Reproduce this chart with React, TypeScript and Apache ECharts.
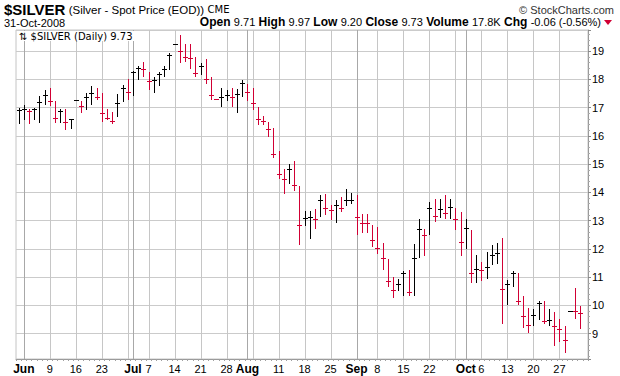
import React, { useEffect, useRef } from "react";
import * as echarts from "echarts";

// ---- data ----
const startDate = "2008-05-30";
const endDate = "2008-10-31";
const holidays = ["2008-07-04", "2008-09-01"];

const highs = [
  17.0, 17.09, 16.97, 17.0, 17.42, 17.62, 17.68, 17.24, 16.97, 16.94,
  16.61, 17.26, 17.24, 17.53, 17.75, 17.68, 17.53, 16.97, 16.85, 17.47,
  17.8, 18.01, 18.3, 18.48, 18.6, 18.25, 18.07, 18.25, 18.46, 18.95,
  19.27, 19.57, 19.25, 19.25, 18.78, 18.57, 18.72, 18.07, 17.32, 17.71,
  17.62, 17.68, 17.66, 17.97, 17.83, 17.68, 17.04, 16.71, 16.49, 16.28,
  15.47, 14.84, 15.0, 15.11, 14.22, 13.34, 13.34, 13.4, 13.89, 13.93,
  13.57, 13.72, 13.85, 14.13, 13.99, 13.89, 13.22, 13.25, 12.83, 12.78,
  12.22, 11.65, 11.01, 10.94, 11.21, 11.25, 12.16, 13.07, 12.71, 13.67,
  13.75, 13.75, 13.89, 13.75, 13.46, 13.3, 13.07, 12.67, 11.77, 11.53,
  11.88, 12.12, 12.19, 12.37, 10.91, 11.21, 11.13, 10.34, 9.91, 9.88,
  10.15, 10.15, 9.88, 9.76, 9.52, 9.26, 9.81, 10.63, 9.97,
];
const lows = [
  16.45, 16.59, 16.45, 16.59, 16.49, 17.12, 17.09, 16.49, 16.49, 16.26,
  16.28, 17.26, 16.85, 16.97, 17.12, 17.3, 16.53, 16.59, 16.45, 16.69,
  17.24, 17.3, 17.44, 18.01, 18.13, 17.66, 17.56, 17.8, 18.13, 18.36,
  19.27, 18.62, 18.65, 18.39, 18.13, 18.19, 17.88, 17.3, 17.32, 17.06,
  17.27, 17.06, 16.85, 17.42, 17.27, 16.94, 16.41, 16.41, 15.99, 15.24,
  14.52, 13.99, 14.34, 14.08, 12.16, 12.83, 12.38, 12.75, 13.16, 13.25,
  13.06, 12.95, 13.34, 13.55, 13.61, 12.51, 12.59, 12.59, 12.1, 11.86,
  11.29, 10.68, 10.3, 10.56, 10.38, 10.38, 10.38, 11.72, 11.8, 12.51,
  13.0, 13.13, 13.09, 13.1, 12.71, 11.77, 12.04, 10.82, 10.82, 10.89,
  10.96, 11.45, 11.51, 9.38, 10.03, 10.68, 10.03, 9.24, 9.05, 9.29,
  9.5, 9.36, 9.32, 8.61, 8.73, 8.34, 9.81, 9.56, 9.2,
];
const closes = [
  16.91, 16.94, 16.88, 16.94, 17.2, 17.44, 17.24, 16.65, 16.88, 16.49,
  16.59, 17.26, 17.06, 17.36, 17.53, 17.39, 16.8, 16.65, 16.53, 17.16,
  17.71, 17.56, 18.28, 18.39, 18.36, 17.95, 17.97, 18.19, 18.36, 18.86,
  19.27, 19.01, 18.8, 18.76, 18.22, 18.46, 18.03, 17.46, 17.32, 17.39,
  17.45, 17.39, 17.47, 17.86, 17.56, 17.16, 16.59, 16.52, 16.26, 15.35,
  14.64, 14.48, 14.84, 14.25, 12.83, 13.08, 13.12, 13.04, 13.72, 13.46,
  13.36, 13.55, 13.46, 13.72, 13.74, 13.14, 12.93, 12.9, 12.33, 12.04,
  11.68, 10.86, 10.56, 10.77, 11.13, 10.48, 11.66, 12.69, 12.48, 13.46,
  13.18, 13.42, 13.27, 13.49, 13.04, 12.26, 12.75, 11.13, 11.29, 11.25,
  11.36, 11.77, 11.86, 10.58, 10.76, 11.13, 10.15, 9.62, 9.3, 9.67,
  10.09, 9.46, 9.47, 9.26, 9.16, 8.79, 9.81, 9.79, 9.73,
];

const tickLabelDates = [
  "2008-06-02", "2008-06-09", "2008-06-16", "2008-06-23", "2008-07-01",
  "2008-07-07", "2008-07-14", "2008-07-21", "2008-07-28", "2008-08-01",
  "2008-08-11", "2008-08-18", "2008-08-25", "2008-09-02", "2008-09-08",
  "2008-09-15", "2008-09-22", "2008-10-01", "2008-10-06", "2008-10-13",
  "2008-10-20", "2008-10-27",
];
const tickLabelTexts = [
  "Jun", "9", "16", "23", "Jul", "7", "14", "21", "28", "Aug", "11", "18",
  "25", "Sep", "8", "15", "22", "Oct", "6", "13", "20", "27",
];
const weekLineDates = [
  "2008-06-09", "2008-06-16", "2008-06-23", "2008-06-30", "2008-07-07",
  "2008-07-14", "2008-07-21", "2008-07-28", "2008-08-04", "2008-08-11",
  "2008-08-18", "2008-08-25", "2008-09-08", "2008-09-15", "2008-09-22",
  "2008-09-29", "2008-10-06", "2008-10-13", "2008-10-20", "2008-10-27",
];
const monthLineDates = ["2008-06-02", "2008-07-01", "2008-08-01", "2008-09-02", "2008-10-01"];

const yMin = 8.1;
const yMax = 19.75;

const headerSymbol = "$SILVER";
const headerName = "(Silver - Spot Price (EOD))";
const headerExchange = "CME";
const headerDate = "31-Oct-2008";
const statLabels = ["Open", "High", "Low", "Close", "Volume", "Chg"];
const statValues = ["9.71", "9.97", "9.20", "9.73", "17.8K", "-0.06 (-0.56%)"];
const legendText = "$SILVER (Daily) 9.73";

const RED = "#d10034";
const BLACK = "#000000";
const WEEK_LINE = "#c6c6c6";
const MONTH_LINE = "#a8a8a8";
const H_LINE = "#cbcbcb";

function tradingDays(start: string, end: string, hol: string[]) {
  const out: string[] = [];
  const d = new Date(start + "T00:00:00Z");
  const e = new Date(end + "T00:00:00Z");
  while (d <= e) {
    const wd = d.getUTCDay();
    const s = d.toISOString().slice(0, 10);
    if (wd !== 0 && wd !== 6 && hol.indexOf(s) < 0) out.push(s);
    d.setUTCDate(d.getUTCDate() + 1);
  }
  return out;
}

export default function App() {
  const ref = useRef<HTMLDivElement>(null);

  useEffect(() => {
    if (!ref.current) return;
    const chart = echarts.init(ref.current, null, { renderer: "svg" });

    const days = tradingDays(startDate, endDate, holidays);
    const categories = [...days, "pad"];
    const labelMap: Record<string, string> = {};
    tickLabelDates.forEach((d, i) => (labelMap[d] = tickLabelTexts[i]));

    const lineData = [
      ...weekLineDates.map((d) => [days.indexOf(d), 10, 0]),
      ...monthLineDates.map((d) => [days.indexOf(d), 10, 1]),
    ];

    const ohlcData = closes.map((c, i) => [
      i,
      highs[i],
      lows[i],
      c,
      i > 0 && c < closes[i - 1] ? 1 : 0,
    ]);

    const statsRich =
      statLabels.map((l, i) => `{l|${l}} {v|${statValues[i]}}`).join(" ");

    chart.setOption({
      animation: false,
      backgroundColor: "#ffffff",
      grid: {
        left: 16,
        right: 32,
        top: 30,
        bottom: 17,
        show: true,
        borderColor: "#c4c4c4",
        borderWidth: 1,
      },
      xAxis: {
        type: "category",
        data: categories,
        boundaryGap: true,
        axisLine: { show: true, lineStyle: { color: "#9a9a9a" } },
        axisTick: { show: true, interval: 0, length: 2, lineStyle: { color: "#a0a0a0" } },
        splitLine: { show: false },
        axisLabel: {
          interval: (index: number, value: string) => labelMap[value] !== undefined,
          formatter: (value: string) => {
            const t = labelMap[value];
            if (t === undefined) return "";
            return /^[A-Z]/.test(t) ? `{m|${t}}` : `{d|${t}}`;
          },
          margin: 4,
          rich: {
            m: { fontFamily: "Liberation Sans", fontSize: 12, fontWeight: "bold", color: "#000" },
            d: { fontFamily: "Liberation Sans", fontSize: 11, color: "#000" },
          },
        },
      },
      yAxis: {
        type: "value",
        position: "right",
        min: yMin,
        max: yMax,
        splitNumber: 11,
        axisLine: { show: true, lineStyle: { color: "#9a9a9a" } },
        axisTick: { show: true, length: 3, lineStyle: { color: "#888" } },
        minorTick: { show: true, splitNumber: 5, length: 2, lineStyle: { color: "#aaa" } },
        splitLine: { show: true, lineStyle: { color: H_LINE, width: 1 } },
        axisLabel: {
          showMinLabel: false,
          showMaxLabel: false,
          margin: 4,
          fontFamily: "Liberation Sans",
          fontSize: 11,
          color: "#000",
          formatter: (v: number) => String(Math.round(v)),
        },
      },
      series: [
        {
          type: "custom",
          name: "gridlines",
          silent: true,
          z: 1,
          data: lineData,
          encode: { x: 0, y: 1 },
          renderItem: (params: any, api: any) => {
            const cs = params.coordSys;
            const p = api.coord([api.value(0), api.value(1)]);
            const x = Math.round(p[0]) + 0.5;
            return {
              type: "line",
              shape: { x1: x, y1: cs.y, x2: x, y2: cs.y + cs.height },
              style: {
                stroke: api.value(2) === 1 ? MONTH_LINE : WEEK_LINE,
                lineWidth: 1,
              },
            };
          },
        },
        {
          type: "custom",
          name: "$SILVER",
          z: 3,
          data: ohlcData,
          encode: { x: 0, y: [1, 2, 3] },
          renderItem: (params: any, api: any) => {
            const i = api.value(0);
            const pH = api.coord([i, api.value(1)]);
            const pL = api.coord([i, api.value(2)]);
            const pC = api.coord([i, api.value(3)]);
            const color = api.value(4) === 1 ? RED : BLACK;
            const x = Math.round(pH[0]) + 0.5;
            const yc = Math.round(pC[1]) + 0.5;
            const children: any[] = [];
            if (pL[1] - pH[1] > 0.8) {
              children.push({
                type: "line",
                shape: { x1: x, y1: Math.round(pH[1]), x2: x, y2: Math.round(pL[1]) + 1 },
                style: { stroke: color, lineWidth: 1 },
              });
            }
            children.push({
              type: "line",
              shape: { x1: x - 2.5, y1: yc, x2: x + 2.5, y2: yc },
              style: { stroke: color, lineWidth: 1 },
            });
            return { type: "group", children };
          },
        },
      ],
      graphic: [
        {
          type: "text",
          x: 4,
          y: 2,
          style: {
            text: `{a|${headerSymbol}} {b|${headerName}} {c|${headerExchange}}`,
            rich: {
              a: { fontFamily: "Liberation Sans", fontSize: 15, fontWeight: "bold", fill: "#000" },
              b: { fontFamily: "Liberation Sans", fontSize: 11.5, fill: "#000" },
              c: { fontFamily: "DejaVu Sans", fontSize: 10, fill: "#000" },
            },
          },
        },
        {
          type: "text",
          x: 614,
          y: 4,
          style: {
            text: "© StockCharts.com",
            textAlign: "right",
            fontFamily: "Liberation Sans",
            fontSize: 11,
            fill: "#333",
          },
        },
        {
          type: "text",
          x: 4,
          y: 17,
          style: { text: headerDate, fontFamily: "Liberation Sans", fontSize: 11, fill: "#000" },
        },
        {
          type: "text",
          x: 601,
          y: 16,
          style: {
            text: statsRich,
            textAlign: "right",
            rich: {
              l: { fontFamily: "Liberation Sans", fontSize: 12, fontWeight: "bold", fill: "#000" },
              v: { fontFamily: "Liberation Sans", fontSize: 11, fill: "#000" },
            },
          },
        },
        {
          type: "polygon",
          shape: { points: [[604, 20], [612, 20], [608, 25]] },
          style: { fill: RED },
        },
        {
          type: "rect",
          z: 10,
          shape: { x: 17, y: 31, width: 130, height: 10 },
          style: { fill: "#ffffff" },
        },
        {
          type: "text",
          z: 11,
          x: 19,
          y: 31,
          style: {
            text: "⇅ " + legendText,
            fontFamily: "DejaVu Sans",
            fontSize: 10,
            fill: "#000",
          },
        },
      ],
    });

    return () => chart.dispose();
  }, []);

  return (
    <div
      ref={ref}
      style={{ position: "fixed", left: 0, top: 0, width: 620, height: 376, background: "#fff" }}
    />
  );
}
